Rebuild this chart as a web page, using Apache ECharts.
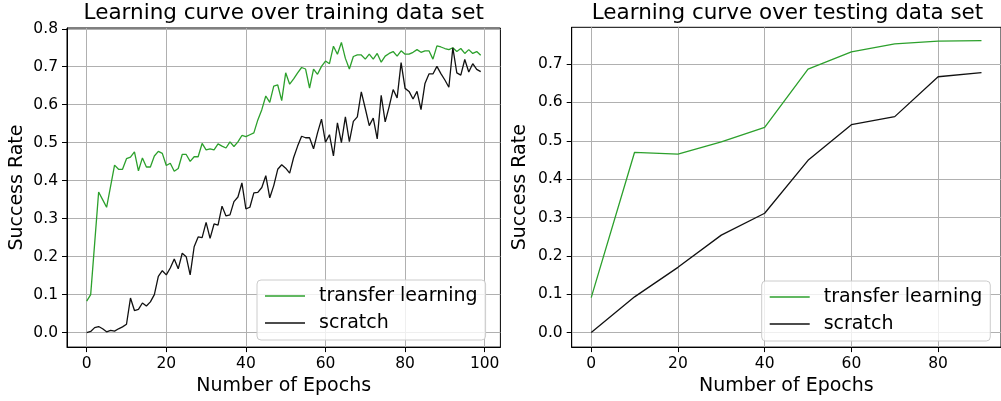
<!DOCTYPE html>
<html>
<head>
<meta charset="utf-8">
<script src="https://cdn.jsdelivr.net/npm/echarts@6/dist/echarts.min.js"></script>
<style>
html,body{margin:0;padding:0;background:#fff;}
#chart{width:1001px;height:401px;}
</style>
</head>
<body>
<div id="chart"></div>
<script>
// ---- data ----
var trainTransfer = [0.083,0.100,0.235,0.370,0.350,0.330,0.385,0.441,0.430,0.430,
  0.458,0.462,0.476,0.426,0.460,0.436,0.436,0.465,0.477,0.472,
  0.440,0.446,0.425,0.432,0.469,0.469,0.451,0.463,0.463,0.498,
  0.481,0.484,0.481,0.497,0.491,0.486,0.502,0.490,0.502,0.519,
  0.516,0.521,0.526,0.560,0.587,0.623,0.606,0.649,0.652,0.611,
  0.684,0.654,0.668,0.684,0.698,0.694,0.644,0.694,0.680,0.701,
  0.715,0.708,0.754,0.733,0.764,0.722,0.694,0.727,0.731,0.731,
  0.720,0.733,0.720,0.735,0.712,0.728,0.735,0.740,0.728,0.742,
  0.733,0.733,0.738,0.745,0.738,0.742,0.742,0.720,0.755,0.752,
  0.748,0.745,0.750,0.740,0.748,0.735,0.745,0.735,0.740,0.730];
var trainScratch = [0.000,0.003,0.013,0.016,0.010,0.002,0.006,0.004,0.010,0.015,
  0.022,0.091,0.058,0.061,0.078,0.070,0.081,0.100,0.148,0.163,
  0.152,0.170,0.194,0.168,0.209,0.200,0.152,0.226,0.252,0.250,
  0.290,0.248,0.286,0.283,0.333,0.307,0.310,0.345,0.357,0.394,
  0.326,0.330,0.368,0.369,0.382,0.413,0.355,0.387,0.430,0.442,
  0.433,0.420,0.461,0.491,0.517,0.513,0.513,0.484,0.526,0.562,
  0.501,0.521,0.465,0.552,0.500,0.568,0.503,0.556,0.568,0.634,
  0.590,0.545,0.565,0.510,0.625,0.555,0.595,0.640,0.618,0.711,
  0.643,0.635,0.615,0.635,0.587,0.656,0.681,0.681,0.701,0.682,
  0.665,0.646,0.750,0.684,0.678,0.719,0.686,0.708,0.693,0.687];
var testEpochs = [0,10,20,30,40,50,60,70,80,90];
var testTransfer = [0.091,0.470,0.465,0.497,0.535,0.687,0.732,0.753,0.760,0.761];
var testScratch = [0.000,0.093,0.170,0.254,0.311,0.449,0.542,0.563,0.667,0.678];
var trainXTicks = [0,20,40,60,80,100];
var testXTicks = [0,20,40,60,80];
var trainYTicks = [0,0.1,0.2,0.3,0.4,0.5,0.6,0.7,0.8];
var testYTicks = [0,0.1,0.2,0.3,0.4,0.5,0.6,0.7];
var seriesNames = ['transfer learning','scratch'];
var titles = ['Learning curve over training data set','Learning curve over testing data set'];

function pairs(xs, ys){ return ys.map(function(v,i){ return [xs[i], v]; }); }
var trainEpochs = trainTransfer.map(function(_,i){ return i; });

var FONT = 'DejaVu Sans';
var GREEN = '#2ca02c';
var BLACK = '#111111';

function xAxis(gi, min, max, ticks){
  return {
    type:'value', gridIndex:gi, min:min, max:max,
    name:'Number of Epochs', nameLocation:'middle', nameGap:27,
    nameTextStyle:{fontFamily:FONT,fontSize:19,color:'#000'},
    axisLine:{show:true,onZero:false,lineStyle:{color:'#000',width:1}},
    axisTick:{show:true,length:5,lineStyle:{color:'#000',width:1},customValues:ticks},
    axisLabel:{fontFamily:FONT,fontSize:15.5,color:'#000',margin:9,customValues:ticks},
    splitLine:{show:true,lineStyle:{color:'#b0b0b0',width:1}}
  };
}
function yAxis(gi, min, max, ticks, gap){
  return {
    type:'value', gridIndex:gi, min:min, max:max,
    name:'Success Rate', nameLocation:'middle', nameGap:gap, nameRotate:90,
    nameTextStyle:{fontFamily:FONT,fontSize:19,color:'#000'},
    axisLine:{show:true,onZero:false,lineStyle:{color:'#000',width:1}},
    axisTick:{show:true,length:5,lineStyle:{color:'#000',width:1},customValues:ticks},
    axisLabel:{fontFamily:FONT,fontSize:15.5,color:'#000',margin:9,customValues:ticks,
      formatter:function(v){return v.toFixed(1);}},
    splitLine:{show:true,lineStyle:{color:'#b0b0b0',width:1}}
  };
}
function legend(left, top){
  return {
    data:seriesNames, orient:'vertical', left:left, top:top,
    icon:'rect', itemWidth:40, itemHeight:1.4, itemGap:7,
    padding:[6,8,7,8],
    backgroundColor:'rgba(255,255,255,0.8)', borderColor:'#cccccc', borderWidth:1, borderRadius:4,
    textStyle:{fontFamily:FONT,fontSize:19,color:'#000',lineHeight:20,padding:[0,0,0,9]},
    selectedMode:false
  };
}
function line(name, gi, data, color){
  return {
    name:name, type:'line', xAxisIndex:gi, yAxisIndex:gi, data:data,
    symbol:'none', showSymbol:false, smooth:false,
    lineStyle:{color:color,width:1.3}, itemStyle:{color:color},
    animation:false, z:5
  };
}

var chart = echarts.init(document.getElementById('chart'), null, {renderer:'canvas'});
chart.setOption({
  animation:false,
  backgroundColor:'#fff',
  title:[
    {text:titles[0], left:283.7, top:2, textAlign:'center', padding:0,
     textStyle:{fontFamily:FONT,fontSize:21.5,fontWeight:'normal',color:'#000'}},
    {text:titles[1], left:787.5, top:2, textAlign:'center', padding:0,
     textStyle:{fontFamily:FONT,fontSize:21.5,fontWeight:'normal',color:'#000'}}
  ],
  grid:[
    {left:67, top:28, width:433.4, height:321.6, show:true, borderColor:'#000', borderWidth:1, backgroundColor:'transparent'},
    {left:571.7, top:27.3, width:431.5, height:321.7, show:true, borderColor:'#000', borderWidth:1, backgroundColor:'transparent'}
  ],
  xAxis:[ xAxis(0,-4.95,103.95,trainXTicks), xAxis(1,-4.5,94.5,testXTicks) ],
  yAxis:[ yAxis(0,-0.0382,0.802,trainYTicks,40), yAxis(1,-0.038,0.796,testYTicks,42) ],
  legend:[ legend(257,280), legend(761.7,281) ],
  series:[
    line(seriesNames[0],0,pairs(trainEpochs,trainTransfer),GREEN),
    line(seriesNames[1],0,pairs(trainEpochs,trainScratch),BLACK),
    line(seriesNames[0],1,pairs(testEpochs,testTransfer),GREEN),
    line(seriesNames[1],1,pairs(testEpochs,testScratch),BLACK)
  ]
});
</script>
</body>
</html>
